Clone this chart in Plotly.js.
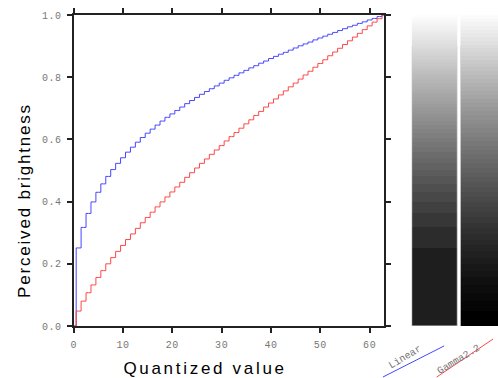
<!DOCTYPE html>
<html>
<head>
<meta charset="utf-8">
<script src="https://cdn.plot.ly/plotly-3.0.1.min.js"></script>
<style>
  html, body { margin: 0; padding: 0; background: #fff; }
  #chart { width: 498px; height: 378px; }
  .xtitle { letter-spacing: 2.7px; }
  .ytitle { letter-spacing: 1.8px; }
  .xtick text, .ytick text { letter-spacing: 0.6px; }
</style>
</head>
<body>
<div id="chart"></div>
<script>
// Quantized code values 0..63
var quantized = [0,1,2,3,4,5,6,7,8,9,10,11,12,13,14,15,16,17,18,19,20,21,22,23,24,25,26,27,28,29,30,31,
  32,33,34,35,36,37,38,39,40,41,42,43,44,45,46,47,48,49,50,51,52,53,54,55,56,57,58,59,60,61,62,63];

// Perceived brightness, linear quantization (blue)
var linearBrightness = [0.000,0.251,0.317,0.362,0.399,0.430,0.457,0.481,0.503,0.523,0.541,0.559,0.575,0.591,0.606,0.620,
  0.633,0.646,0.659,0.671,0.682,0.693,0.704,0.715,0.725,0.735,0.745,0.754,0.763,0.772,0.781,0.790,
  0.798,0.806,0.814,0.822,0.830,0.837,0.845,0.852,0.860,0.867,0.874,0.880,0.887,0.894,0.901,0.907,
  0.913,0.920,0.926,0.932,0.938,0.944,0.950,0.956,0.962,0.967,0.973,0.978,0.984,0.989,0.995,1.000];

// Perceived brightness, gamma 2.2 quantization (red)
var gammaBrightness = [0.000,0.048,0.080,0.107,0.132,0.156,0.178,0.200,0.220,0.240,0.259,0.278,0.296,0.314,0.332,0.349,
  0.366,0.383,0.399,0.415,0.431,0.447,0.462,0.478,0.493,0.508,0.523,0.537,0.552,0.566,0.580,0.595,
  0.609,0.622,0.636,0.650,0.663,0.677,0.690,0.704,0.717,0.730,0.743,0.756,0.769,0.781,0.794,0.807,
  0.819,0.832,0.844,0.856,0.869,0.881,0.893,0.905,0.917,0.929,0.941,0.953,0.965,0.977,0.988,1.000];

var seriesNames = ['Linear', 'Gamma2.2'];
var xTicks = [0,10,20,30,40,50,60];
var yTicks = [0.0,0.2,0.4,0.6,0.8,1.0];

var tickFont = {family: 'Liberation Mono, DejaVu Sans Mono, monospace', size: 10, color: '#777'};
var titleFont = {family: 'Liberation Sans, Arial, sans-serif', size: 17, color: '#000'};

// gray ramps for the swatches
var linearScale = [[0,'rgb(30,30,30)'],[0.25,'rgb(44,44,44)'],[0.32,'rgb(55,55,55)'],[0.4,'rgb(72,72,72)'],
  [0.5,'rgb(97,97,97)'],[0.6,'rgb(125,125,125)'],[0.7,'rgb(155,155,155)'],[0.8,'rgb(187,187,187)'],
  [0.9,'rgb(222,222,222)'],[1,'rgb(255,255,255)']];
var gammaScale = [[0,'rgb(0,0,0)'],[0.1,'rgb(11,11,11)'],[0.2,'rgb(28,28,28)'],[0.3,'rgb(49,49,49)'],
  [0.4,'rgb(73,73,73)'],[0.5,'rgb(99,99,99)'],[0.6,'rgb(125,125,125)'],[0.7,'rgb(155,155,155)'],
  [0.8,'rgb(187,187,187)'],[0.9,'rgb(222,222,222)'],[1,'rgb(255,255,255)']];

function rows(arr) { return arr.slice(0, arr.length - 1).map(function (v) { return [v]; }); }

var traces = [
  {type: 'scatter', mode: 'lines', x: quantized, y: linearBrightness, name: seriesNames[0],
   line: {color: '#4646ff', width: 1, shape: 'hvh'}, xaxis: 'x', yaxis: 'y'},
  {type: 'scatter', mode: 'lines', x: quantized, y: gammaBrightness, name: seriesNames[1],
   line: {color: '#ff4646', width: 1, shape: 'hvh'}, xaxis: 'x', yaxis: 'y'},
  {type: 'heatmap', x: [0, 1], y: linearBrightness, z: rows(linearBrightness), zmin: 0, zmax: 1,
   colorscale: linearScale, showscale: false, xaxis: 'x2', yaxis: 'y', hoverinfo: 'skip'},
  {type: 'heatmap', x: [0, 1], y: gammaBrightness, z: rows(gammaBrightness), zmin: 0, zmax: 1,
   colorscale: gammaScale, showscale: false, xaxis: 'x3', yaxis: 'y', hoverinfo: 'skip'}
];

var axisLine = {showline: true, linecolor: '#222', linewidth: 2, mirror: 'ticks', ticks: 'outside',
  ticklen: 5, tickwidth: 2, tickcolor: '#222', showgrid: false, zeroline: false, tickfont: tickFont};

var edge = {color: '#cfcfcf', width: 1};

var layout = {
  width: 498, height: 378,
  margin: {l: 0, r: 0, t: 15, b: 52},
  paper_bgcolor: '#fff', plot_bgcolor: '#fff',
  showlegend: false,
  xaxis: Object.assign({}, axisLine, {domain: [0.148, 0.772], range: [0, 63], tickvals: xTicks,
    ticktext: xTicks.map(String), ticklabelstandoff: 3,
    title: {text: 'Quantized value', font: titleFont, standoff: 14}}),
  yaxis: Object.assign({}, axisLine, {domain: [0, 1], range: [0, 1], tickvals: yTicks,
    ticktext: yTicks.map(function (v) { return v.toFixed(1); }), ticklabelstandoff: 3,
    title: {text: 'Perceived brightness', font: titleFont, standoff: 10}}),
  xaxis2: {domain: [0.8267, 0.9183], range: [0, 1], visible: false, anchor: 'y'},
  xaxis3: {domain: [0.9243, 1.0], range: [0, 1], visible: false, anchor: 'y'},
  shapes: [
    {type: 'line', xref: 'x2', yref: 'y', x0: 0, x1: 0, y0: 0, y1: 0.9, line: edge},
    {type: 'line', xref: 'x2', yref: 'y', x0: 1, x1: 1, y0: 0, y1: 0.9, line: edge},
    {type: 'line', xref: 'x2', yref: 'y', x0: 0, x1: 1, y0: 0, y1: 0, line: edge},
    {type: 'line', xref: 'x3', yref: 'y', x0: 0, x1: 0, y0: 0, y1: 0.9, line: edge},
    {type: 'line', xref: 'paper', yref: 'paper', x0: 0.769, y0: -0.164, x1: 0.892, y1: -0.064,
     line: {color: '#4646ff', width: 1}},
    {type: 'line', xref: 'paper', yref: 'paper', x0: 0.877, y0: -0.164, x1: 0.99, y1: -0.042,
     line: {color: '#ff4646', width: 1}}
  ],
  annotations: [
    {xref: 'paper', yref: 'paper', x: 0.813, y: -0.100, xanchor: 'center', yanchor: 'middle',
     text: seriesNames[0], showarrow: false, textangle: -31, font: tickFont},
    {xref: 'paper', yref: 'paper', x: 0.922, y: -0.109, xanchor: 'center', yanchor: 'middle',
     text: seriesNames[1], showarrow: false, textangle: -31, font: tickFont}
  ]
};

Plotly.newPlot('chart', traces, layout, {staticPlot: true, displayModeBar: false}).then(function () {
  // the reference places both axis titles off-centre
  var xt = document.querySelector('.xtitle');
  if (xt) { xt.setAttribute('x', parseFloat(xt.getAttribute('x')) - 24); }
  var yt = document.querySelector('.ytitle');
  if (yt) {
    var tx = parseFloat(yt.getAttribute('x')) + 3, ty = parseFloat(yt.getAttribute('y')) + 30;
    yt.setAttribute('x', tx);
    yt.setAttribute('y', ty);
    yt.setAttribute('transform', 'rotate(-90,' + tx + ',' + ty + ')');
  }
});
</script>
</body>
</html>
